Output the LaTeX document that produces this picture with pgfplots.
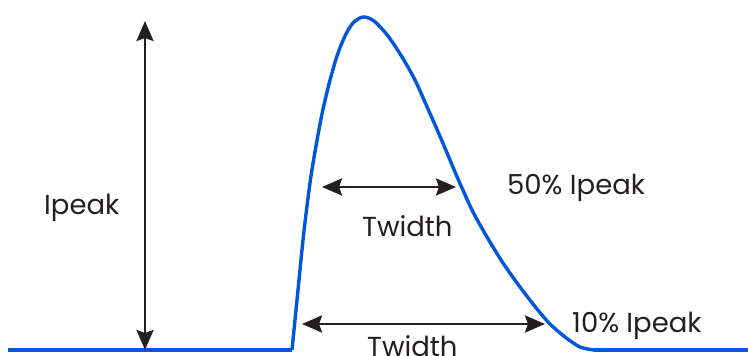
\documentclass[border=0pt]{standalone}
\usepackage{pgfplots}
\pgfplotsset{compat=1.18}
\usepackage{fontspec}
\setmainfont{Poppins}
\usetikzlibrary{arrows.meta}
\definecolor{pulse}{RGB}{0,87,217}
\definecolor{ink}{RGB}{35,31,32}
\begin{document}
\begin{tikzpicture}
\begin{axis}[width=748pt,height=356pt,scale only axis,
  xmin=0,xmax=748,ymin=0,ymax=356,axis lines=none,clip=false]
\coordinate (ll) at (axis cs:0,0);
\coordinate (ur) at (axis cs:748,356);
% baseline segments
\addplot[pulse,line width=3.4pt] coordinates {(8,6)(292,6)};
\addplot[pulse,line width=3.4pt] coordinates {(594,6)(748,6)};
% pulse
\addplot[pulse,line width=3.4pt,smooth,tension=0.5] coordinates {
(292,6)(295,36)(299,76)(303,116)(307,150)(311,180)(316,210)(322,242)(329,272)
(337,300)(345,320)(353,333)(363,339)(374,335)(388,320)(402,299)(415,276)
(428,247)(442,215)(455,184)(462,168)(473,144)(487,119)(503,93)(520,69)
(537,47)(550,32)(565,19)(580,9)(594,6)};
% arrows
\draw[ink,line width=2.8pt,{Stealth[length=20pt,width=17pt,inset=3pt]}-{Stealth[length=20pt,width=17pt,inset=3pt]}]
  (axis cs:145,335) -- (axis cs:145,6);
\draw[ink,line width=2.8pt,{Stealth[length=20pt,width=17pt,inset=3pt]}-{Stealth[length=20pt,width=17pt,inset=3pt]}]
  (axis cs:322,169) -- (axis cs:456,169);
\draw[ink,line width=2.8pt,{Stealth[length=20pt,width=17pt,inset=3pt]}-{Stealth[length=20pt,width=17pt,inset=3pt]}]
  (axis cs:302,32) -- (axis cs:545,32);
% labels
\begin{scope}[every node/.style={ink,inner sep=0pt,anchor=base west,font=\fontsize{27.5}{30}\selectfont}]
\node at (axis cs:44,141) {Ipeak};
\node at (axis cs:507,161) {50\% Ipeak};
\node at (axis cs:362,119) {Twidth};
\node at (axis cs:572,23) {10\% Ipeak};
\node at (axis cs:367,-1) {Twidth};
\end{scope}
\end{axis}
\pgfresetboundingbox
\path[use as bounding box] (ll) rectangle (ur);
\end{tikzpicture}
\end{document}
